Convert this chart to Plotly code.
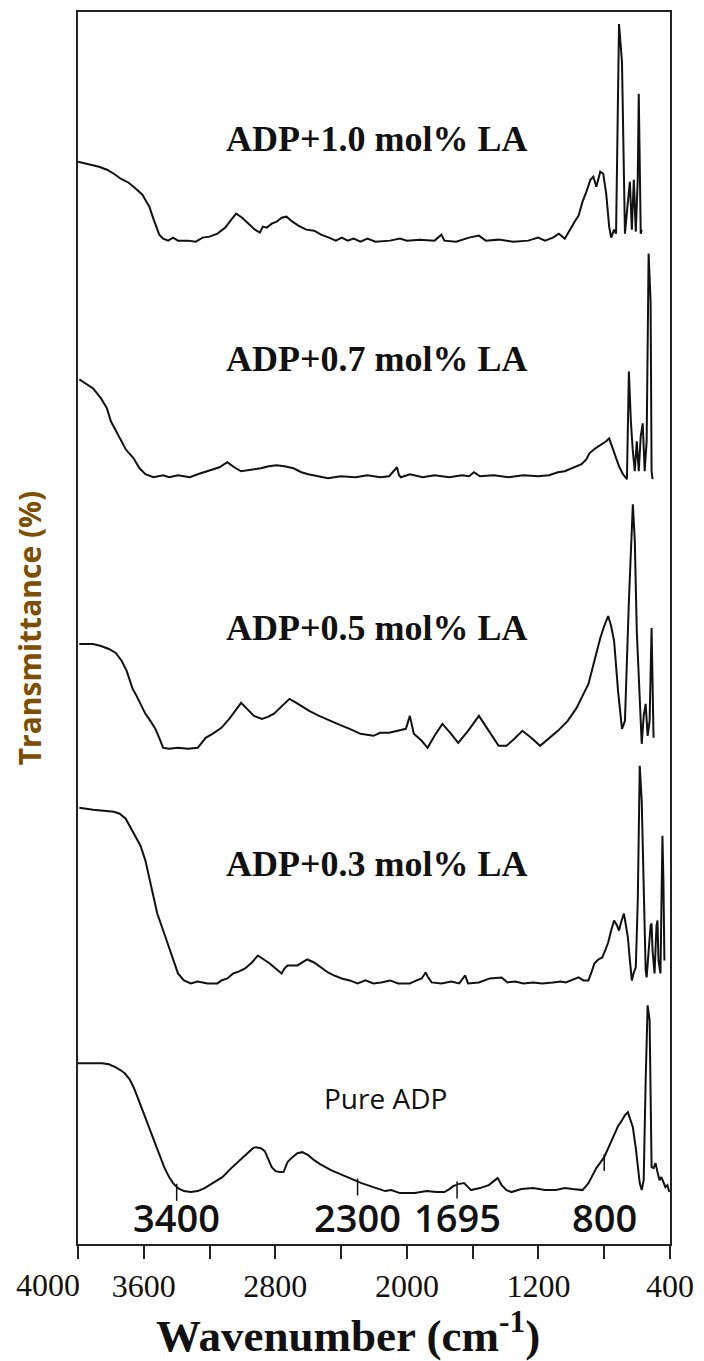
import numpy as np
import plotly.graph_objects as go

# FTIR spectra (wavenumber in cm-1, transmittance in arbitrary stacked units)

wn_10 = [4000, 3932, 3872, 3824, 3782, 3740, 3692, 3662, 3632, 3608, 3584, 3566, 3542, 3524, 3506, 3482,
         3452, 3422, 3392, 3332, 3284, 3242, 3200, 3152, 3104, 3068, 3038, 3002, 2960, 2924, 2894, 2876,
         2852, 2822, 2792, 2762, 2732, 2696, 2660, 2612, 2564, 2522, 2474, 2432, 2396, 2360, 2324, 2282,
         2240, 2192, 2102, 2042, 2000, 1922, 1832, 1790, 1772, 1700, 1622, 1562, 1520, 1442, 1352, 1262,
         1202, 1160, 1112, 1076, 1040, 1010, 980, 956, 932, 908, 884, 866, 848, 824, 806, 788, 770, 758,
         740, 728, 710, 692, 674, 656, 644, 632, 620, 608, 596, 590, 578, 572]
t_10 = [108.4, 108.1, 107.9, 107.6, 107.2, 106.7, 106.3, 105.9, 105.5, 105.1, 104.4, 103.9, 102.7, 101.8,
        101.1, 100.7, 100.5, 100.8, 100.5, 100.5, 100.4, 100.8, 100.9, 101.2, 101.8, 102.6, 103.2, 102.8,
        102.2, 101.6, 101.3, 101.9, 101.8, 102.2, 102.4, 102.8, 102.9, 102.4, 102.0, 101.6, 101.5, 101.1,
        100.8, 100.5, 100.8, 100.5, 100.7, 100.4, 100.7, 100.4, 100.5, 100.7, 100.5, 100.6, 100.5, 101.1,
        100.5, 100.4, 100.8, 101.0, 100.5, 100.6, 100.4, 100.5, 100.8, 100.5, 100.8, 101.2, 100.7, 101.6,
        102.4, 103.0, 104.4, 105.4, 106.6, 106.9, 105.9, 107.4, 107.2, 105.2, 101.9, 100.8, 101.6, 101.2,
        122.2, 118.4, 101.2, 104.4, 106.4, 101.6, 106.6, 101.4, 106.8, 115.2, 101.2, 101.6]

wn_07 = [3992, 3956, 3908, 3860, 3824, 3800, 3758, 3710, 3662, 3626, 3590, 3542, 3482, 3446, 3392, 3320,
         3272, 3200, 3140, 3092, 3050, 3008, 2960, 2888, 2840, 2792, 2744, 2690, 2642, 2600, 2540, 2480,
         2402, 2312, 2240, 2162, 2108, 2078, 2060, 2048, 2036, 1982, 1904, 1832, 1742, 1664, 1622, 1592,
         1556, 1472, 1382, 1292, 1202, 1136, 1082, 1040, 992, 938, 908, 890, 854, 818, 788, 770, 752, 734,
         710, 686, 662, 650, 638, 626, 614, 602, 590, 578, 566, 554, 542, 530, 518, 512, 506]
t_07 = [86.6, 86.2, 85.7, 84.7, 83.7, 82.4, 81.1, 79.6, 78.7, 77.7, 77.1, 76.8, 77.0, 76.8, 77.0, 76.8,
        77.1, 77.5, 77.8, 78.3, 77.8, 77.4, 77.5, 77.7, 77.9, 78.0, 77.9, 77.7, 77.3, 77.1, 76.9, 76.7,
        76.9, 76.8, 77.0, 76.8, 76.9, 77.4, 77.8, 77.0, 76.8, 77.1, 76.8, 77.0, 76.8, 77.0, 76.9, 77.3,
        76.9, 77.0, 76.8, 77.0, 76.9, 77.0, 77.3, 77.4, 77.7, 78.1, 78.6, 79.2, 79.7, 80.1, 80.4, 80.7,
        79.9, 79.1, 77.9, 77.1, 76.6, 87.4, 82.4, 79.4, 77.4, 80.4, 77.4, 80.9, 82.2, 77.4, 80.4, 99.2,
        94.4, 77.4, 76.6]

wn_05 = [3992, 3908, 3860, 3812, 3770, 3734, 3704, 3686, 3668, 3650, 3620, 3590, 3560, 3530, 3506, 3482,
         3446, 3392, 3332, 3272, 3248, 3224, 3182, 3128, 3080, 3044, 3008, 2972, 2930, 2882, 2846, 2810,
         2768, 2714, 2672, 2594, 2534, 2468, 2408, 2348, 2282, 2204, 2162, 2108, 2060, 2006, 1982, 1958,
         1910, 1874, 1832, 1784, 1736, 1688, 1628, 1562, 1502, 1442, 1394, 1346, 1298, 1244, 1190, 1136,
         1082, 1022, 968, 932, 896, 860, 824, 800, 776, 758, 740, 716, 692, 674, 650, 626, 614, 602, 584,
         572, 560, 548, 536, 524, 512, 506, 500]
t_05 = [60.1, 60.1, 59.9, 59.6, 59.2, 58.4, 57.4, 56.4, 55.6, 55.1, 54.1, 53.1, 52.4, 51.6, 50.7, 49.7,
        49.6, 49.7, 49.6, 49.7, 50.2, 50.7, 51.1, 51.7, 52.6, 53.4, 54.2, 53.6, 52.9, 52.6, 52.8, 53.1,
        53.8, 54.6, 54.2, 53.4, 52.9, 52.4, 52.0, 51.6, 51.1, 50.9, 51.2, 51.2, 51.4, 51.6, 52.9, 51.1,
        50.4, 49.7, 50.9, 52.1, 51.2, 50.2, 51.4, 52.9, 51.4, 49.9, 49.9, 50.6, 51.4, 50.7, 49.9, 50.7,
        51.4, 52.4, 53.7, 54.9, 56.1, 58.4, 60.7, 61.9, 62.9, 61.9, 60.4, 55.4, 51.6, 52.4, 64.4, 74.1,
        70.4, 61.4, 54.4, 50.1, 52.9, 54.1, 50.9, 52.4, 61.7, 54.4, 50.7]

wn_03 = [3992, 3908, 3782, 3746, 3710, 3662, 3620, 3590, 3566, 3542, 3518, 3482, 3446, 3416, 3392, 3356,
         3314, 3272, 3212, 3152, 3128, 3092, 3056, 3020, 2984, 2942, 2906, 2870, 2834, 2798, 2762, 2744,
         2726, 2666, 2636, 2606, 2564, 2516, 2480, 2444, 2396, 2348, 2300, 2252, 2204, 2156, 2102, 2054,
         1982, 1940, 1910, 1886, 1874, 1850, 1790, 1730, 1682, 1646, 1628, 1562, 1496, 1424, 1388, 1340,
         1292, 1232, 1178, 1112, 1064, 1034, 992, 956, 926, 896, 878, 860, 836, 812, 794, 776, 758, 740,
         722, 710, 698, 680, 668, 656, 644, 632, 620, 608, 596, 584, 572, 560, 548, 542, 530, 518, 512,
         506, 494, 482, 476, 470, 458, 452, 446, 440, 434]
t_03 = [43.7, 43.5, 43.3, 43.1, 42.6, 41.2, 39.9, 38.4, 36.7, 34.7, 33.1, 31.4, 29.7, 28.4, 27.1, 26.4,
        26.1, 26.3, 26.1, 26.1, 26.4, 26.6, 27.1, 27.3, 27.6, 28.2, 28.9, 28.5, 28.1, 27.6, 27.1, 27.6,
        27.9, 27.9, 28.2, 28.5, 28.2, 27.6, 27.2, 26.9, 26.6, 26.4, 26.1, 26.4, 26.1, 26.2, 26.4, 26.1,
        26.1, 26.4, 26.6, 27.2, 26.8, 26.2, 26.1, 26.3, 26.1, 26.9, 26.1, 26.2, 26.6, 26.7, 26.2, 26.3,
        26.1, 26.2, 26.1, 26.2, 26.3, 26.2, 26.5, 26.7, 26.4, 26.4, 27.2, 28.1, 28.5, 28.7, 29.4, 30.2,
        31.4, 32.4, 31.9, 31.4, 32.2, 33.1, 31.9, 30.7, 28.4, 26.4, 27.2, 27.7, 34.4, 47.9, 44.4, 34.4,
        27.4, 26.7, 29.4, 31.9, 32.1, 29.4, 27.1, 31.9, 32.4, 28.4, 27.1, 32.4, 40.9, 36.4, 28.4]

wn_pure = [4000, 3932, 3854, 3812, 3770, 3740, 3716, 3686, 3662, 3638, 3608, 3584, 3554, 3524, 3500, 3476,
           3446, 3422, 3392, 3356, 3314, 3272, 3230, 3182, 3122, 3068, 3014, 2966, 2936, 2918, 2888, 2864,
           2846, 2822, 2798, 2774, 2750, 2738, 2726, 2696, 2666, 2636, 2600, 2564, 2528, 2462, 2366, 2276,
           2186, 2132, 2096, 2042, 1952, 1880, 1820, 1772, 1742, 1718, 1688, 1652, 1628, 1610, 1556, 1502,
           1472, 1448, 1424, 1394, 1364, 1304, 1232, 1160, 1094, 1040, 992, 932, 896, 848, 800, 752, 716,
           692, 674, 656, 644, 626, 608, 596, 584, 572, 560, 548, 536, 524, 518, 512, 500, 488, 476, 464,
           452, 440, 428, 416, 404]
t_pure = [18.1, 18.1, 18.1, 18.0, 17.7, 17.4, 17.1, 16.5, 15.7, 14.7, 13.4, 12.2, 11.1, 9.8, 8.7, 7.7,
          6.7, 6.1, 5.6, 5.3, 5.2, 5.3, 5.6, 6.1, 6.7, 7.6, 8.4, 9.2, 9.6, 9.7, 9.6, 9.3, 8.6, 7.7, 7.3,
          7.2, 7.2, 7.8, 8.2, 8.7, 9.1, 9.2, 8.9, 8.4, 8.0, 7.4, 6.7, 6.1, 5.6, 5.3, 5.4, 5.1, 5.1, 5.3,
          5.2, 5.2, 5.5, 5.8, 6.0, 6.1, 5.7, 5.4, 5.6, 5.9, 6.3, 6.6, 5.9, 5.4, 5.2, 5.5, 5.6, 5.4, 5.4,
          5.6, 5.5, 5.4, 6.1, 7.6, 8.7, 10.4, 11.8, 12.4, 12.9, 13.2, 12.6, 11.7, 9.6, 7.7, 6.1, 5.4, 6.4,
          16.4, 23.9, 22.4, 14.4, 7.7, 7.6, 8.1, 7.2, 6.4, 6.7, 6.2, 5.7, 5.9, 5.2]

series = [
    ("ADP+1.0 mol% LA", wn_10, t_10),
    ("ADP+0.7 mol% LA", wn_07, t_07),
    ("ADP+0.5 mol% LA", wn_05, t_05),
    ("ADP+0.3 mol% LA", wn_03, t_03),
    ("Pure ADP", wn_pure, t_pure),
]

# Characteristic bands marked on the pure ADP spectrum
band_wn = [3400, 2300, 1695, 800]
band_text = ["3400", "2300", "1695", "800"]

# labelled ticks and unlabelled in-between ticks
major_ticks = [3600, 2800, 2000, 1200, 400]
minor_ticks = [4000, 3200, 2400, 1600, 800]
end_label = 4000

serif = "Liberation Serif"
sans = "Open Sans"
ink = "#111111"

fig = go.Figure()
for name, wn, t in series:
    fig.add_trace(go.Scatter(x=wn, y=t, mode="lines", name=name,
                             line=dict(color=ink, width=2.0), showlegend=False))

# spectrum captions placed above each curve
caption_pos = {
    "ADP+1.0 mol% LA": 110.7,
    "ADP+0.7 mol% LA": 88.6,
    "ADP+0.5 mol% LA": 61.7,
    "ADP+0.3 mol% LA": 38.1,
}
for name, ypos in caption_pos.items():
    fig.add_annotation(x=2180, y=ypos, text=name, showarrow=False,
                       font=dict(family=serif, size=36, color=ink, weight="bold"))
fig.add_annotation(x=2132, y=14.6, text="Pure ADP", showarrow=False,
                   font=dict(family=sans, size=28, color=ink))

# band markers on the pure ADP curve with their wavenumber labels
wn_pure_arr = np.array(wn_pure)[::-1]
t_pure_arr = np.array(t_pure)[::-1]
for w, lab in zip(band_wn, band_text):
    tv = float(np.interp(w, wn_pure_arr, t_pure_arr))
    fig.add_shape(type="line", x0=w, x1=w, y0=tv + 0.3, y1=tv - 1.4,
                  line=dict(color=ink, width=1.5))
    fig.add_annotation(x=w, y=2.7, text=lab, showarrow=False,
                       font=dict(family=sans, size=38, color=ink, weight=600))

# the 4000 end label sits left of its tick, clear of the 3600 label
fig.add_annotation(x=end_label, xref="x", y=0, yref="paper", yanchor="middle",
                   yshift=-41, xshift=-30, text=str(end_label), showarrow=False,
                   font=dict(family=serif, size=32, color=ink))

# x axis title
fig.add_annotation(x=0.456, xref="paper", y=0, yref="paper", yanchor="middle", yshift=-88,
                   text="Wavenumber (cm<sup>-1</sup>)", showarrow=False,
                   font=dict(family=serif, size=45, color=ink, weight="bold"))

fig.update_layout(
    width=704, height=1361,
    margin=dict(l=78, r=25, t=10, b=117),
    paper_bgcolor="white", plot_bgcolor="white",
    xaxis=dict(
        range=[4000, 400], showgrid=False, zeroline=False,
        showline=True, linecolor="#222222", linewidth=2, mirror=True,
        tickmode="array", tickvals=major_ticks,
        ticks="outside", ticklen=13, tickwidth=2, tickcolor="#222222",
        tickfont=dict(family=serif, size=32, color=ink),
        minor=dict(tickmode="array", tickvals=minor_ticks, ticks="outside",
                   ticklen=13, tickwidth=2, tickcolor="#222222", showgrid=False),
    ),
    yaxis=dict(
        range=[0, 123.4], showgrid=False, zeroline=False,
        showline=True, linecolor="#222222", linewidth=2, mirror=True,
        ticks="", showticklabels=False,
        title=dict(text="Transmittance (%)", standoff=26,
                   font=dict(family=sans, size=30, color="#7e4e02", weight="bold")),
    ),
)

fig.write_html("out.html")
